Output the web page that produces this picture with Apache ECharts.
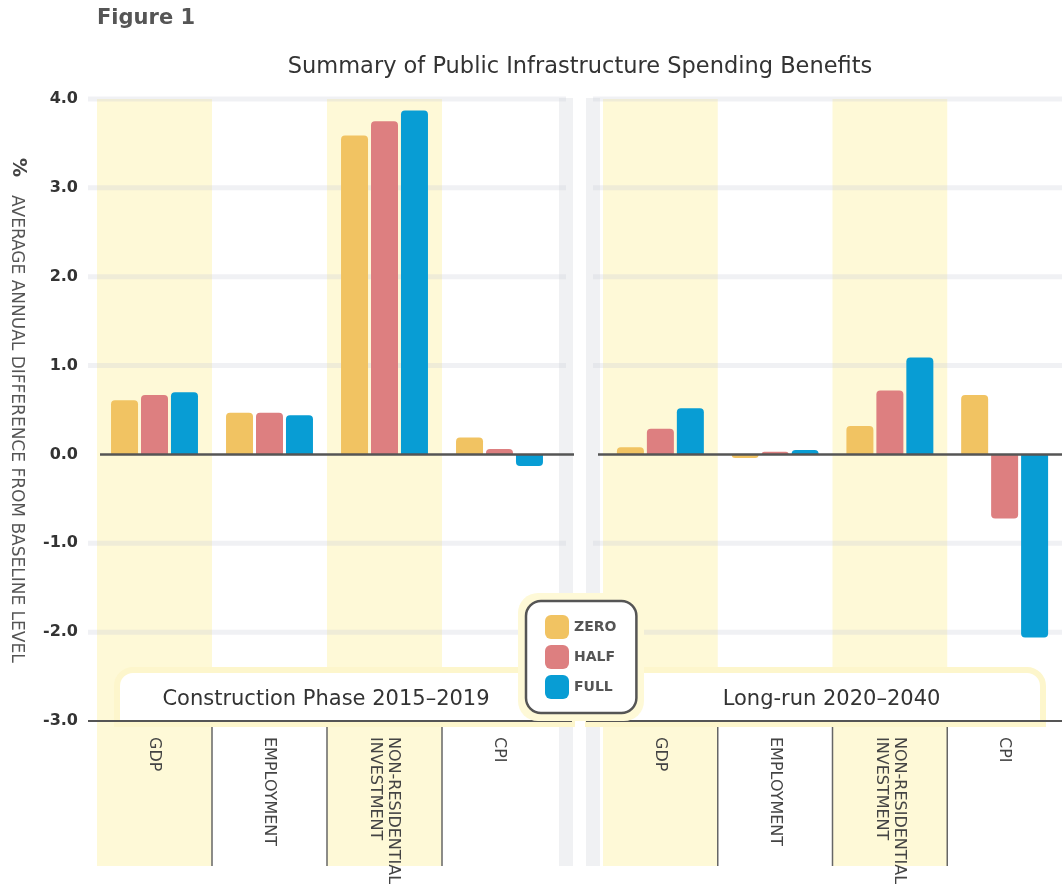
<!DOCTYPE html>
<html>
<head>
<meta charset="utf-8">
<script src="https://cdn.jsdelivr.net/npm/echarts@6/dist/echarts.min.js"></script>
<style>
html,body{margin:0;padding:0;background:#fff;}
#chart{width:1062px;height:892px;}
</style>
</head>
<body>
<div id="chart"></div>
<script>
const categories = ['GDP', 'EMPLOYMENT', 'NON-RESIDENTIAL\nINVESTMENT', 'CPI'];
const seriesNames = ['ZERO', 'HALF', 'FULL'];
const constructionZero = [0.61, 0.47, 3.59, 0.19];
const constructionHalf = [0.67, 0.47, 3.75, 0.06];
const constructionFull = [0.70, 0.44, 3.87, -0.13];
const longRunZero = [0.08, -0.04, 0.32, 0.67];
const longRunHalf = [0.29, 0.03, 0.72, -0.72];
const longRunFull = [0.52, 0.05, 1.09, -2.06];
const yMin = -3, yMax = 4, yInterval = 1;
const gridValues = [4, 3, 2, 1, -1, -2];
const panelTitles = ['Construction Phase 2015\u20132019', 'Long-run 2020\u20132040'];
const figureLabel = 'Figure 1';
const chartTitle = 'Summary of Public Infrastructure Spending Benefits';
const yTitle = 'AVERAGE ANNUAL DIFFERENCE FROM BASELINE LEVEL';

const colors = ['#f1c362', '#dd7f80', '#089dd4'];
const FONT = 'DejaVu Sans';
const YELLOW = '#fef9d7';

const chart = echarts.init(document.getElementById('chart'), null, {renderer: 'canvas'});

const panels = [
  [constructionZero, constructionHalf, constructionFull],
  [longRunZero, longRunHalf, longRunFull]
];

const series = [];
panels.forEach((vals, g) => {
  vals.forEach((arr, s) => {
    series.push({
      type: 'bar',
      name: seriesNames[s],
      xAxisIndex: g,
      yAxisIndex: g,
      barWidth: 27,
      barGap: '11%',
      z: 2,
      itemStyle: {color: colors[s]},
      data: arr.map(v => ({value: v, itemStyle: {borderRadius: v >= 0 ? [4, 4, 0, 0] : [0, 0, 4, 4]}}))
    });
  });
});

function xAxisCfg(g) {
  return {
    type: 'category', gridIndex: g, data: categories, z: 6,
    axisLine: {show: false}, axisTick: {show: false}, splitLine: {show: false},
    axisLabel: {
      rotate: -90, margin: 16, interval: 0,
      fontFamily: FONT, fontSize: 16, color: '#444', lineHeight: 18
    }
  };
}
function yAxisCfg(g) {
  return {
    type: 'value', gridIndex: g, min: yMin, max: yMax, interval: yInterval, z: 6,
    axisLine: {show: false}, axisTick: {show: false}, splitLine: {show: false},
    axisLabel: {
      show: g === 0, margin: 19,
      fontFamily: FONT, fontSize: 16, fontWeight: 'bold', color: '#333',
      formatter: v => v.toFixed(1)
    }
  };
}

chart.setOption({
  animation: false,
  grid: [
    {left: 97, top: 99, width: 460, height: 622},
    {left: 603, top: 99, width: 460, height: 622}
  ],
  xAxis: [xAxisCfg(0), xAxisCfg(1)],
  yAxis: [yAxisCfg(0), yAxisCfg(1)],
  legend: {
    data: seriesNames,
    orient: 'vertical', left: 526, top: 601,
    itemWidth: 24, itemHeight: 24, itemGap: 6,
    padding: [14, 20, 14, 19],
    backgroundColor: '#fff', borderColor: '#555', borderWidth: 2.5, borderRadius: 15,
    icon: 'roundRect', selectedMode: false, z: 10,
    textStyle: {fontFamily: FONT, fontWeight: 'bold', fontSize: 14, color: '#555'}
  },
  series: series
});

function px(g, ci, v) { return chart.convertToPixel({gridIndex: g}, [ci, v]); }

const graphics = [];
const gridOffsets = [[-9, 9], [-10, 10]];
const zeroOffsets = [[3, 17], [-5, 10]];
const axisOffsets = [[-9, 15], [-17, 10]];
const boxSpans = [[117, 572], [588, 1043]];

for (let g = 0; g < 2; g++) {
  const c0 = px(g, 0, 0)[0], c1 = px(g, 1, 0)[0];
  const bw = c1 - c0;
  const left = c0 - bw / 2;
  const right = left + bw * categories.length;
  const yTop = px(g, 0, yMax)[1];
  const yAxisPx = px(g, 0, yMin)[1];
  const yZero = px(g, 0, 0)[1];
  const labelBottom = yAxisPx + 145;
  [0, 2].forEach(i => {
    graphics.push({type: 'rect', z: 0, silent: true,
      shape: {x: left + i * bw, y: yTop, width: bw, height: labelBottom - yTop},
      style: {fill: YELLOW}});
  });
  gridValues.forEach(v => {
    const y = px(g, 0, v)[1];
    graphics.push({type: 'line', z: 1, silent: true,
      shape: {x1: left + gridOffsets[g][0], y1: y, x2: right + gridOffsets[g][1], y2: y},
      style: {stroke: 'rgba(200,205,215,0.28)', lineWidth: 5}});
  });
  graphics.push({type: 'line', z: 3, silent: true,
    shape: {x1: left + zeroOffsets[g][0], y1: yZero, x2: right + zeroOffsets[g][1], y2: yZero},
    style: {stroke: '#555', lineWidth: 2.5}});
  for (let k = 1; k < categories.length; k++) {
    const x = left + k * bw;
    graphics.push({type: 'line', z: 3, silent: true,
      shape: {x1: x, y1: yAxisPx, x2: x, y2: labelBottom},
      style: {stroke: '#666', lineWidth: 1.5}});
  }
  graphics.push({type: 'rect', z: 3, silent: true,
    shape: {x: boxSpans[g][0], y: 670, width: boxSpans[g][1] - boxSpans[g][0], height: yAxisPx - 670 + 3, r: [16, 16, 0, 0]},
    style: {fill: '#fff', stroke: '#fdf6cc', lineWidth: 6}});
  graphics.push({type: 'text', z: 4, silent: true,
    x: (left + right) / 2 - 1, y: 700,
    style: {text: panelTitles[g], fontFamily: FONT, fontSize: 21, fill: '#333', textAlign: 'center', textVerticalAlign: 'middle'}});
  graphics.push({type: 'line', z: 4, silent: true,
    shape: {x1: left + axisOffsets[g][0], y1: yAxisPx, x2: right + axisOffsets[g][1], y2: yAxisPx},
    style: {stroke: '#555', lineWidth: 2}});
}
[[559, 14], [586, 14]].forEach(s => {
  graphics.push({type: 'rect', z: 0, silent: true,
    shape: {x: s[0], y: 98, width: s[1], height: 768},
    style: {fill: '#f0f1f3'}});
});
graphics.push({type: 'rect', z: 5, silent: true,
  shape: {x: 518, y: 593, width: 126, height: 128, r: 20},
  style: {fill: YELLOW}});
graphics.push({type: 'text', z: 5, silent: true, x: 97, y: 19,
  style: {text: figureLabel, fontFamily: FONT, fontSize: 21, fontWeight: 'bold', fill: '#555', textVerticalAlign: 'middle'}});
graphics.push({type: 'text', z: 5, silent: true, x: 580, y: 67,
  style: {text: chartTitle, fontFamily: FONT, fontSize: 22.5, fill: '#333', textAlign: 'center', textVerticalAlign: 'middle'}});
graphics.push({type: 'text', z: 5, silent: true, x: 18, y: 158, rotation: -Math.PI / 2,
  style: {text: '%', fontFamily: FONT, fontSize: 19, fontWeight: 'bold', fill: '#444', textAlign: 'left', textVerticalAlign: 'middle'}});
graphics.push({type: 'text', z: 5, silent: true, x: 16, y: 195, rotation: -Math.PI / 2,
  style: {text: yTitle, fontFamily: FONT, fontSize: 17, fill: '#555', textAlign: 'left', textVerticalAlign: 'middle'}});

chart.setOption({graphic: graphics});
</script>
</body>
</html>
